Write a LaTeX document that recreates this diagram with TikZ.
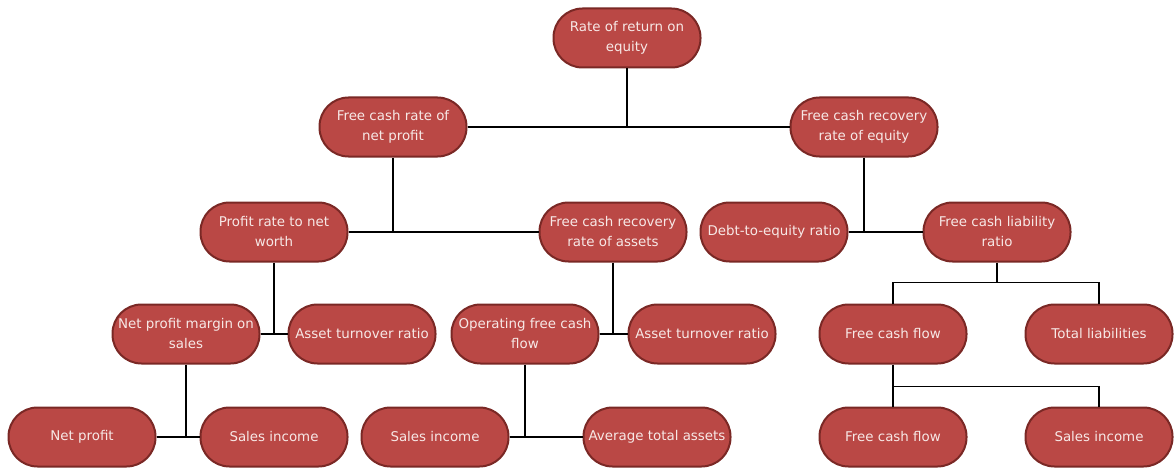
\documentclass[tikz,border=0pt]{standalone}
\usepackage{fontspec}
\setmainfont{DejaVu Sans}
\usetikzlibrary{calc}
\begin{document}
\begin{tikzpicture}[x=1pt,y=-1pt,
  pill/.style={rectangle, rounded corners=29pt, minimum width=147pt, minimum height=59pt,
    inner sep=1pt, align=center, fill=boxred, draw=boxedge, line width=2pt,
    text=boxtext, font=\fontsize{13.4}{20}\selectfont},
  link/.style={draw=black, line width=1.2pt}]
\definecolor{boxred}{HTML}{BA4845}
\definecolor{boxedge}{HTML}{7A2825}
\definecolor{boxtext}{HTML}{F7E8E6}
\useasboundingbox (0,0) rectangle (1175,468);

% level 0
\node[pill] (roe) at (627,38) {Rate of return on\\equity};
% level 1
\node[pill] (fcnp) at (393,127) {Free cash rate of\\net profit};
\node[pill] (fcre) at (864,127) {Free cash recovery\\rate of equity};
% level 2
\node[pill] (prn)  at (274,232) {Profit rate to net\\worth};
\node[pill] (fcra) at (613,232) {Free cash recovery\\rate of assets};
\node[pill] (der)  at (774,232) {Debt-to-equity ratio};
\node[pill] (fclr) at (997,232) {Free cash liability\\ratio};
% level 3
\node[pill] (npms) at (186,334) {Net profit margin on\\sales};
\node[pill] (atr1) at (362,334) {Asset turnover ratio};
\node[pill] (ofcf) at (525,334) {Operating free cash\\flow};
\node[pill] (atr2) at (702,334) {Asset turnover ratio};
\node[pill] (fcf1) at (893,334) {Free cash flow};
\node[pill] (tl)   at (1099,334) {Total liabilities};
% level 4
\node[pill] (np)   at (82,437) {Net profit};
\node[pill] (si1)  at (274,437) {Sales income};
\node[pill] (si2)  at (435,437) {Sales income};
\node[pill] (ata)  at (657,437) {Average total assets};
\node[pill] (fcf2) at (893,437) {Free cash flow};
\node[pill] (si3)  at (1099,437) {Sales income};

% connectors
\path[link] (roe.south) -- (roe.south |- fcnp.east);
\path[link] (fcnp.east) -- (fcre.west);

\path[link] (fcnp.south) -- (fcnp.south |- prn.east);
\path[link] (prn.east) -- (fcra.west);
\path[link] (fcre.south) -- (fcre.south |- der.east);
\path[link] (der.east) -- (fclr.west);

\path[link] (prn.south) -- (prn.south |- npms.east);
\path[link] (npms.east) -- (atr1.west);
\path[link] (fcra.south) -- (fcra.south |- ofcf.east);
\path[link] (ofcf.east) -- (atr2.west);

\coordinate (j1) at ($(fclr.south)+(0,20)$);
\path[link] (fclr.south) -- (j1);
\path[link] (fcf1.north) |- (j1) -| (tl.north);

\path[link] (npms.south) -- (npms.south |- np.east);
\path[link] (np.east) -- (si1.west);
\path[link] (ofcf.south) -- (ofcf.south |- si2.east);
\path[link] (si2.east) -- (ata.west);

\coordinate (j2) at ($(fcf1.south)+(0,22)$);
\path[link] (fcf1.south) -- (j2);
\path[link] (fcf2.north) |- (j2) -| (si3.north);
\end{tikzpicture}
\end{document}
